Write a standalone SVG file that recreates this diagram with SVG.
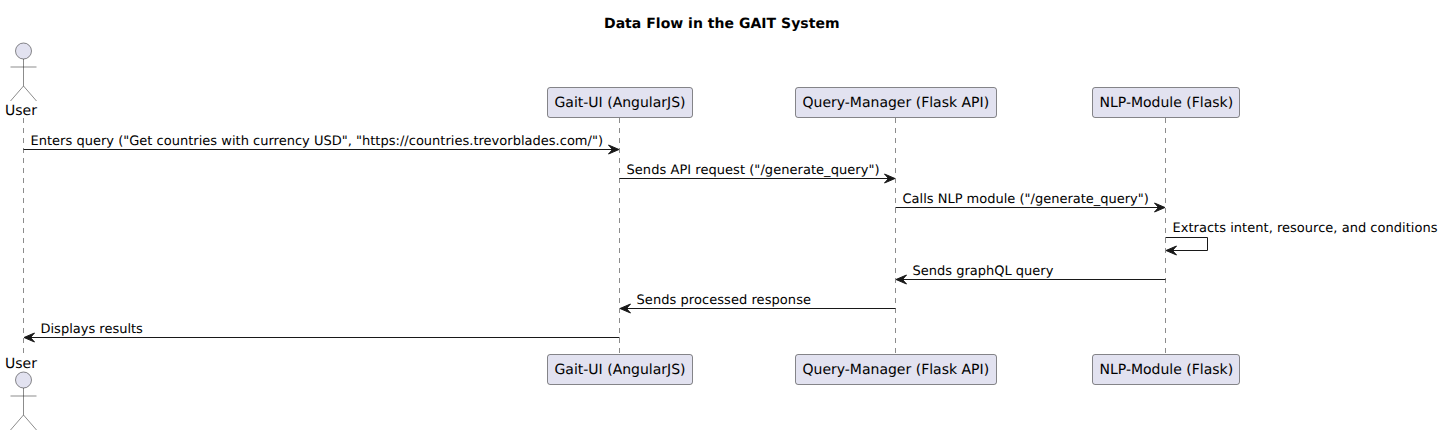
<svg xmlns="http://www.w3.org/2000/svg" width="1443" height="435" viewBox="0 0 1443 435">
<style>
text{font-family:"DejaVu Sans",sans-serif;font-size:13px;fill:#000;text-rendering:geometricPrecision}
.title{font-size:14px;font-weight:bold}
.name{font-size:14px}
.box{fill:#E2E2F0;stroke:#181818;stroke-width:.5}
.actor{fill:none;stroke:#181818;stroke-width:.5}
.head{fill:#E2E2F0;stroke:#181818;stroke-width:.5}
.life{stroke:#181818;stroke-width:.5;stroke-dasharray:5,5;fill:none}
.msg{stroke:#181818;stroke-width:1;fill:none}
.arrow{fill:#181818;stroke:#181818;stroke-width:1}
</style>
<defs>
<path id="ar" class="arrow" d="M-10.5 -4.5L0 0L-10.5 4.5L-6.5 0Z"/>
<path id="al" class="arrow" d="M10.5 -4.5L0 0L10.5 4.5L6.5 0Z"/>
</defs>
<text class="title" x="604" y="28" textLength="235.5" lengthAdjust="spacing">Data Flow in the GAIT System</text>
<g id="lifelines">
<path class="life" d="M23.5 118V354"/>
<path class="life" d="M619.5 118V354"/>
<path class="life" d="M895.5 118V354"/>
<path class="life" d="M1165.5 118V354"/>
</g>
<g id="actor-user-top">
<circle class="head" cx="23.5" cy="51" r="8"/>
<path class="actor" d="M23.5 59V86M10.5 67H36.5M23.5 86L10.5 101M23.5 86L36.5 101"/>
<text class="name" x="5" y="114.5">User</text>
</g>
<g id="gait-ui-top">
<rect class="box" x="547.5" y="87.5" width="145" height="30" rx="2.5"/>
<text class="name" x="554.5" y="107">Gait-UI (AngularJS)</text>
</g>
<g id="query-manager-top">
<rect class="box" x="795.5" y="87.5" width="201" height="30" rx="2.5"/>
<text class="name" x="802.5" y="107">Query-Manager (Flask API)</text>
</g>
<g id="nlp-module-top">
<rect class="box" x="1092.5" y="87.5" width="147" height="30" rx="2.5"/>
<text class="name" x="1099.5" y="107">NLP-Module (Flask)</text>
</g>
<g id="actor-user-bottom">
<text class="name" x="5" y="368">User</text>
<circle class="head" cx="23.5" cy="380" r="8"/>
<path class="actor" d="M23.5 388V415M10.5 396H36.5M23.5 415L10.5 430M23.5 415L36.5 430"/>
</g>
<g id="gait-ui-bottom">
<rect class="box" x="547.5" y="354.5" width="145" height="30" rx="2.5"/>
<text class="name" x="554.5" y="374">Gait-UI (AngularJS)</text>
</g>
<g id="query-manager-bottom">
<rect class="box" x="795.5" y="354.5" width="201" height="30" rx="2.5"/>
<text class="name" x="802.5" y="374">Query-Manager (Flask API)</text>
</g>
<g id="nlp-module-bottom">
<rect class="box" x="1092.5" y="354.5" width="147" height="30" rx="2.5"/>
<text class="name" x="1099.5" y="374">NLP-Module (Flask)</text>
</g>
<g id="connectors">
<path class="msg" d="M23.5 149.5H614"/><use href="#ar" x="619" y="149.5"/>
<text x="30.5" y="144.5" textLength="572.5" lengthAdjust="spacing">Enters query ("Get countries with currency USD", "https://countries.trevorblades.com/")</text>
<path class="msg" d="M619.5 178.5H890"/><use href="#ar" x="895" y="178.5"/>
<text x="626.5" y="173.5" textLength="253" lengthAdjust="spacing">Sends API request ("/generate_query")</text>
<path class="msg" d="M895.5 207.5H1160"/><use href="#ar" x="1165" y="207.5"/>
<text x="902.5" y="202.5">Calls NLP module ("/generate_query")</text>
<path class="msg" d="M1165.5 237.5H1207.5V250.5H1171"/><use href="#al" x="1166" y="250.5"/>
<text x="1172.5" y="232" textLength="265" lengthAdjust="spacing">Extracts intent, resource, and conditions</text>
<path class="msg" d="M1165.5 279.5H901"/><use href="#al" x="896" y="279.5"/>
<text x="912.5" y="274.5">Sends graphQL query</text>
<path class="msg" d="M895.5 308.5H625"/><use href="#al" x="620" y="308.5"/>
<text x="636.5" y="303.5" textLength="174.5" lengthAdjust="spacing">Sends processed response</text>
<path class="msg" d="M619.5 337.5H29"/><use href="#al" x="24" y="337.5"/>
<text x="40.5" y="332.5">Displays results</text>
</g>
</svg>
